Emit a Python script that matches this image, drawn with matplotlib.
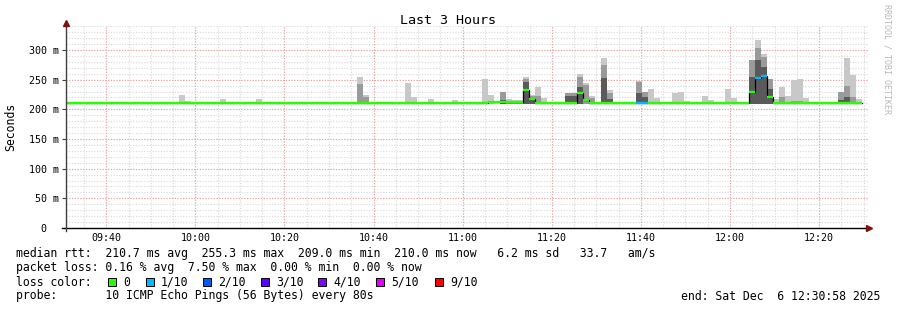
import matplotlib
matplotlib.use("Agg")
import matplotlib.pyplot as plt
from matplotlib.patches import Rectangle
import numpy as np

plt.rcParams['font.family'] = ['DejaVu Sans Mono']

# --- data -------------------------------------------------------------
# 80 s steps, start 09:30:58, 134 steps shown
step_min = 80 / 60.0
n_steps = 134

# smoke (sorted pings): top of light / medium / dark band, 0 = no band
smoke_bin = [19, 20, 26, 27, 32, 33, 49, 50, 57, 58, 61, 62, 65, 70, 71, 73, 74, 75, 76, 77,
             78, 79, 80, 84, 85, 86, 87, 88, 90, 91, 96, 97, 98, 99, 102, 103, 104, 107, 108,
             111, 112, 115, 116, 117, 118, 119, 120, 121, 122, 123, 124, 130, 131, 132, 133]
smoke_max = [224, 214, 217, 212, 217, 212, 255, 224, 245, 221, 217, 212, 216, 251, 224, 229, 217, 216, 216, 255,
             225, 238, 219, 227, 227, 260, 245, 222, 286, 233, 248, 230, 234, 219, 227, 230, 214, 222, 216,
             234, 219, 283, 317, 294, 252, 217, 238, 222, 249, 251, 219, 230, 286, 258, 217]
smoke_mid = [0, 0, 0, 0, 0, 0, 243, 221, 0, 0, 0, 0, 0, 0, 0, 229, 214, 213, 213, 251,
             222, 222, 0, 227, 227, 254, 241, 219, 275, 228, 246, 230, 0, 0, 212, 0, 0, 0, 0,
             0, 0, 283, 303, 289, 252, 0, 221, 0, 214, 214, 0, 230, 239, 221, 0]
smoke_dark = [0, 0, 0, 0, 0, 0, 0, 0, 0, 0, 0, 0, 0, 0, 0, 216, 0, 0, 0, 246,
              217, 0, 0, 222, 222, 238, 0, 0, 253, 217, 228, 221, 0, 0, 0, 0, 0, 0, 0,
              0, 0, 255, 283, 272, 235, 0, 0, 0, 0, 0, 0, 216, 221, 0, 0]
smoke_min = 209

# median rtt in runs of steps
med_start = [0, 71, 77, 78, 79, 86, 87, 88, 115, 116, 117, 118, 119]
med_end = [71, 77, 78, 79, 86, 87, 88, 115, 116, 117, 118, 119, 134]
med_val = [210, 212, 233, 217, 210, 227, 216, 210, 229, 253, 257, 221, 210]

# packet loss (x/10) per step where not 0
loss_bin = [96, 97, 116, 117]
loss_val = [1, 1, 1, 1]

loss_labels = ['0', '1/10', '2/10', '3/10', '4/10', '5/10', '9/10']
loss_colors = ['#26ff00', '#00b8ff', '#0059ff', '#5e00ff', '#7e00ff', '#dd00ff', '#ff0000']
loss_color_of = {0: '#26ff00', 1: '#00b8ff', 2: '#0059ff', 3: '#5e00ff', 4: '#7e00ff', 5: '#dd00ff', 9: '#ff0000'}

x_tick_labels = ['09:40', '10:00', '10:20', '10:40', '11:00', '11:20', '11:40', '12:00', '12:20']
y_ticks = [0, 50, 100, 150, 200, 250, 300]
y_tick_labels = ['0  ', '50 m', '100 m', '150 m', '200 m', '250 m', '300 m']

start_clock = 9 * 60 + 30 + 58 / 60.0


def clock_to_min(s):
    h, m = s.split(':')
    return int(h) * 60 + int(m) - start_clock


# --- figure -----------------------------------------------------------
W, H = 897, 310
fig = plt.figure(figsize=(W / 100, H / 100), dpi=100)
fig.patch.set_facecolor('white')

x0, x1 = 66, 868
y0, y1 = 228, 26.3
ax = fig.add_axes([x0 / W, (H - y0) / H, (x1 - x0) / W, (y0 - y1) / H])
ax.set_xlim(0, 180)
ax.set_ylim(0, 340)
for s in ax.spines.values():
    s.set_visible(False)

# grid
minor_x = [clock_to_min('%02d:%02d' % divmod(m, 60)) for m in range(9 * 60 + 35, 12 * 60 + 31, 5)]
for xm in minor_x:
    ax.axvline(xm, color='#d8d8d8', lw=0.8, ls=(0, (1, 1.5)), zorder=0)
for yv in range(10, 341, 10):
    ax.axhline(yv, color='#d8d8d8', lw=0.8, ls=(0, (1, 1.5)), zorder=0)
major_x = [clock_to_min(t) for t in x_tick_labels]
for xm in major_x:
    ax.axvline(xm, color='#f0a0a0', lw=0.8, ls=(0, (1, 1.5)), zorder=0.5)
for yv in y_ticks[1:]:
    ax.axhline(yv, color='#f0a0a0', lw=0.8, ls=(0, (1, 1.5)), zorder=0.5)

# smoke
left = np.array(smoke_bin) * step_min
for vals, col in [(smoke_max, '#c8c8c8'), (smoke_mid, '#9a9a9a'), (smoke_dark, '#5a5a5a')]:
    v = np.array(vals, dtype=float)
    m = v > 0
    ax.bar(left[m], v[m] - smoke_min, bottom=smoke_min, width=step_min, align='edge',
           color=col, linewidth=0, zorder=2)

# median
med = np.zeros(n_steps)
for a, b, v in zip(med_start, med_end, med_val):
    med[a:b] = v
loss = np.zeros(n_steps, dtype=int)
for b, l in zip(loss_bin, loss_val):
    loss[b] = l
edges = np.arange(n_steps + 1) * step_min
ax.step(edges, np.append(med, med[-1]), where='post', color='black', lw=0.9, zorder=3)
ax.hlines(med, edges[:-1], edges[1:], colors=[loss_color_of[l] for l in loss], lw=1.7, zorder=4)

# ticks
ax.set_xticks(major_x)
ax.set_xticklabels(x_tick_labels, fontsize=7.2)
ax.set_yticks(y_ticks)
ax.set_yticklabels(y_tick_labels, fontsize=7.2)
ax.tick_params(axis='x', length=0, pad=3.5)
ax.tick_params(axis='y', length=3, width=0.8, color='#404040', pad=2)

# axes with arrows (pixel coords)
def fx(px):
    return px / W


def fy(py):
    return 1 - py / H


fig.add_artist(plt.Line2D([fx(62), fx(867)], [fy(228), fy(228)], color='black', lw=1.0))
fig.add_artist(plt.Line2D([fx(66), fx(66)], [fy(231), fy(25)], color='#404040', lw=1.0))
fig.add_artist(plt.Line2D([fx(869)], [fy(228)], marker='>', color='#7a1010', ms=4, lw=0))
fig.add_artist(plt.Line2D([fx(66)], [fy(23)], marker='^', color='#7a1010', ms=4, lw=0))

# texts
fig.text(fx(448), fy(20), 'Last 3 Hours', ha='center', va='center', fontsize=9.6)
fig.text(fx(11), fy(127), 'Seconds', ha='center', va='center', rotation=90, fontsize=8.3)
fig.text(fx(887), fy(4), 'RRDTOOL / TOBI OETIKER', ha='center', va='top', rotation=270,
         fontsize=6.0, color='#b8b8b8')

fs = 8.3
lx = fx(16)
fig.text(lx, fy(254), 'median rtt:  210.7 ms avg  255.3 ms max  209.0 ms min  210.0 ms now   6.2 ms sd   33.7   am/s',
         va='center', fontsize=fs)
fig.text(lx, fy(268), 'packet loss: 0.16 % avg  7.50 % max  0.00 % min  0.00 % now',
         va='center', fontsize=fs)
fig.text(lx, fy(282), 'loss color:', va='center', fontsize=fs)
box_x = [108, 146, 203, 261, 318, 376, 435]
for bx, lab, col in zip(box_x, loss_labels, loss_colors):
    fig.add_artist(Rectangle((fx(bx), fy(286)), 8 / W, 8 / H, transform=fig.transFigure,
                             facecolor=col, edgecolor='black', lw=0.7))
    fig.text(fx(bx + 15), fy(282), lab, va='center', fontsize=fs)
fig.text(lx, fy(296), 'probe:       10 ICMP Echo Pings (56 Bytes) every 80s', va='center', fontsize=fs)
fig.text(fx(880), fy(296), 'end: Sat Dec  6 12:30:58 2025', ha='right', va='center', fontsize=fs)

fig.savefig('out.png', dpi=100)
